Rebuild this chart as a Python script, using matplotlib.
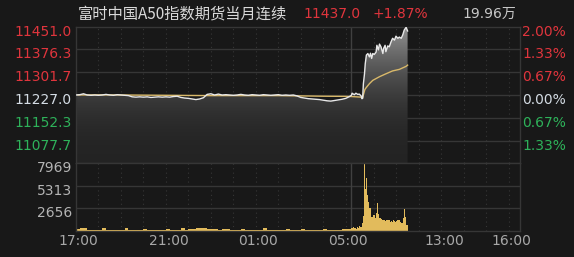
import numpy as np
import matplotlib
matplotlib.use("Agg")
import matplotlib.pyplot as plt
import matplotlib.transforms as mtransforms

# ---------------- data ----------------
title = "富时中国A50指数期货当月连续"
last_price = "11437.0"
last_change = "+1.87%"
turnover = "19.96万"

base_price = 11227.0
price_levels = [11451.0, 11376.3, 11301.7, 11227.0, 11152.3, 11077.7]
price_level_colors = ["red", "red", "red", "white", "green", "green"]
pct_labels = ["2.00%", "1.33%", "0.67%", "0.00%", "0.67%", "1.33%"]
vol_levels = [7969, 5313, 2656]

# time axis: minutes since 17:00 (night 17:00-05:15, then day 09:00-16:30 joined)
night_len = 735
day_len = 450
tick_pos_night = [0, 240, 480, 720]
tick_lbl_night = ["17:00", "21:00", "01:00", "05:00"]
tick_pos_day = [240, 420]          # minutes after 09:00
tick_lbl_day = ["13:00", "16:00"]

# night session price, every 10 min from 17:00
night_price = [11227, 11228, 11231, 11227, 11226, 11227, 11226, 11227, 11229, 11227,
               11226, 11228, 11227, 11226, 11225, 11221, 11220, 11221, 11220, 11221,
               11219, 11220, 11221, 11220, 11221, 11220, 11222, 11223, 11219, 11217,
               11216, 11214, 11212, 11214, 11218, 11229, 11231, 11227, 11230, 11227,
               11228, 11227, 11226, 11227, 11229, 11227, 11226, 11228, 11227, 11226,
               11228, 11227, 11226, 11227, 11228, 11226, 11227, 11226, 11227, 11224,
               11219, 11217, 11215, 11214, 11213, 11212, 11210, 11208, 11207, 11209,
               11211, 11213, 11216, 11222]
# day session price: minutes after 09:00 and price
day_min = [0, 2, 4, 8, 12, 17, 21, 26, 28, 30, 32, 35, 37, 40, 44, 48, 51, 54, 57, 61,
           66, 68, 72, 75, 79, 84, 86, 90, 92, 97, 101, 106, 110, 115, 119, 124, 128,
           133, 137, 141, 146, 149, 150]
day_price = [11226, 11233, 11231, 11228, 11233, 11229, 11230, 11224, 11215, 11216,
             11264, 11297, 11330, 11358, 11363, 11352, 11364, 11347, 11363, 11360,
             11368, 11390, 11375, 11394, 11385, 11363, 11380, 11390, 11369, 11388,
             11385, 11402, 11413, 11407, 11420, 11413, 11417, 11413, 11424, 11440,
             11449, 11440, 11437]

# average price line
avg_night_min = [0, 60, 120, 180, 240, 300, 360, 420, 480, 540, 600, 660, 720, 735]
avg_night = [11227, 11227.5, 11227, 11226.5, 11226, 11225.5, 11225, 11225, 11225,
             11225, 11224, 11223, 11222.5, 11222]
avg_day_min = [0, 26, 30, 33, 36, 40, 48, 57, 75, 93, 110, 128, 146, 150]
avg_day = [11222, 11220, 11218, 11232, 11245, 11252, 11264, 11275, 11287, 11297,
           11306, 11311, 11321, 11325]

# volume: night every 10 min, day every 3 min
night_vol = [180, 300, 380, 150, 120, 100, 120, 300, 120, 100, 150, 120, 130, 300, 120,
             150, 120, 130, 260, 150, 120, 150, 120, 130, 280, 120, 150, 130, 380, 150,
             180, 200, 300, 330, 380, 280, 250, 220, 150, 180, 260, 150, 120, 130, 200,
             120, 130, 120, 150, 130, 300, 120, 130, 120, 150, 130, 240, 120, 150, 130,
             260, 150, 130, 120, 150, 130, 260, 150, 130, 120, 150, 180, 200, 240]
day_vol = [400, 500, 300, 350, 250, 450, 350, 600, 500, 900, 1800, 7969, 5000, 6200,
           4240, 3450, 2700, 1700, 1680, 1900, 1880, 1500, 2080, 3260, 2000, 1530, 1400,
           1300, 1250, 1300, 1200, 1350, 1300, 1250, 1100, 1200, 1050, 1300, 1150, 1100,
           1200, 1300, 1250, 1100, 950, 940, 1500, 2590, 1680, 700]

# ---------------- style ----------------
BG = "#181818"
GRID = "#363636"
RED = "#e0353d"
GREEN = "#2eb25a"
WHITE = "#d4dce4"
GRAY = "#b4b4b4"
LINE = "#e8e8e8"
AVG = "#d9b96a"
VOLC = "#e2bb5c"
cmap = {"red": RED, "green": GREEN, "white": WHITE}

W, H = 574, 257
fig = plt.figure(figsize=(W / 100, H / 100), dpi=100, facecolor=BG)
L, R = 76, 520
TOP, MID, BOT = 26.7, 163.3, 231.0
ax_p = fig.add_axes([L / W, 1 - MID / H, (R - L) / W, (MID - TOP) / H])
ax_v = fig.add_axes([L / W, 1 - BOT / H, (R - L) / W, (BOT - MID) / H])

total = night_len + day_len
step = price_levels[0] - base_price
pmin, pmax = base_price - step, base_price + step

for ax in (ax_p, ax_v):
    ax.set_facecolor(BG)
    ax.set_xlim(0, total)
    for s in ax.spines.values():
        s.set_color(GRID)
        s.set_linewidth(1)
    ax.tick_params(length=0)
    ax.set_yticks([])
    # vertical grid lines
    for h in range(60, night_len, 60):
        ax.axvline(h, color=GRID, lw=0.8, ls=(0, (1, 3)), zorder=0.5)
    for h in range(60, day_len, 60):
        ax.axvline(night_len + h, color=GRID, lw=0.8, ls=(0, (1, 3)), zorder=0.5)
    ax.axvline(night_len, color="#404040", lw=1, zorder=0.6)

ax_p.set_ylim(pmin, pmax)
ax_v.set_ylim(0, vol_levels[0])
for lv in price_levels[1:]:
    ax_p.axhline(lv, color=GRID, lw=1, zorder=0.5)
for lv in vol_levels[1:]:
    ax_v.axhline(lv, color=GRID, lw=1, zorder=0.5)

# price series on the joined axis
x_night = np.arange(len(night_price)) * 10
x_night = np.minimum(x_night, night_len)
x_day = night_len + np.array(day_min)
xs = np.concatenate([x_night, x_day])
ps = np.concatenate([night_price, day_price])

# gradient fill below the price line
poly = ax_p.fill_between(xs, ps, pmin, color="none", lw=0)
t = np.linspace(1, 0, 256)
v = 0.14 + 0.45 * t ** 2.2
img = np.dstack([v, v, v, np.ones_like(v)]).reshape(256, 1, 4)
im = ax_p.imshow(img, extent=[0, total, pmin, pmax], aspect="auto",
                 origin="upper", zorder=1)
im.set_clip_path(poly.get_paths()[0], transform=ax_p.transData)
ax_p.set_xlim(0, total)
ax_p.set_ylim(pmin, pmax)

ax_p.plot(xs, ps, color=LINE, lw=1.0, zorder=3)
ax_avg_x = np.concatenate([avg_night_min, night_len + np.array(avg_day_min)])
ax_p.plot(ax_avg_x, np.concatenate([avg_night, avg_day]), color=AVG, lw=1.0, zorder=2.5)

# volume bars
ax_v.bar(np.arange(len(night_vol)) * 10, night_vol, width=10, align="edge",
         color=VOLC, lw=0, zorder=2)
ax_v.bar(night_len + np.arange(len(day_vol)) * 3, day_vol, width=3, align="edge",
         color=VOLC, lw=0, zorder=2)

# y labels
off_l = mtransforms.ScaledTranslation(-0.04, -0.05, fig.dpi_scale_trans)
off_r = mtransforms.ScaledTranslation(0.02, -0.05, fig.dpi_scale_trans)
tp_l = mtransforms.blended_transform_factory(ax_p.transAxes, ax_p.transData)
for lv, c, pl in zip(price_levels, price_level_colors, pct_labels):
    ax_p.text(0, lv, f"{lv:.1f}", transform=tp_l + off_l, ha="right", va="center",
              color=cmap[c], fontsize=10)
    ax_p.text(1, lv, pl, transform=tp_l + off_r, ha="left", va="center",
              color=cmap[c], fontsize=10)
tv_l = mtransforms.blended_transform_factory(ax_v.transAxes, ax_v.transData)
for lv in vol_levels:
    ax_v.text(0, lv, str(lv), transform=tv_l + off_l, ha="right", va="center",
              color=GRAY, fontsize=10)

# x ticks
ax_p.set_xticks([])
ax_v.set_xticks(tick_pos_night + [night_len + p for p in tick_pos_day])
ax_v.set_xticklabels(tick_lbl_night + tick_lbl_day, color="#a8a8a8", fontsize=10)
ax_v.tick_params(axis="x", pad=2.5)
shift = mtransforms.ScaledTranslation(0.025, 0, fig.dpi_scale_trans)
for lab in ax_v.get_xticklabels():
    lab.set_transform(lab.get_transform() + shift)

# header
fig.text(78 / W, 1 - 14 / H, title, color="#d9d9d9", fontsize=11, va="center",
         ha="left", family=["Noto Sans CJK SC", "DejaVu Sans"])
fig.text(303 / W, 1 - 14 / H, last_price, color=RED, fontsize=10, va="center", ha="left")
fig.text(372 / W, 1 - 14 / H, last_change, color=RED, fontsize=10, va="center", ha="left")
fig.text(516 / W, 1 - 14 / H, turnover, color="#c8c8c8", fontsize=10, va="center",
         ha="right", family=["DejaVu Sans", "Noto Sans CJK SC"])

fig.savefig("out.png", dpi=100, facecolor=BG)
